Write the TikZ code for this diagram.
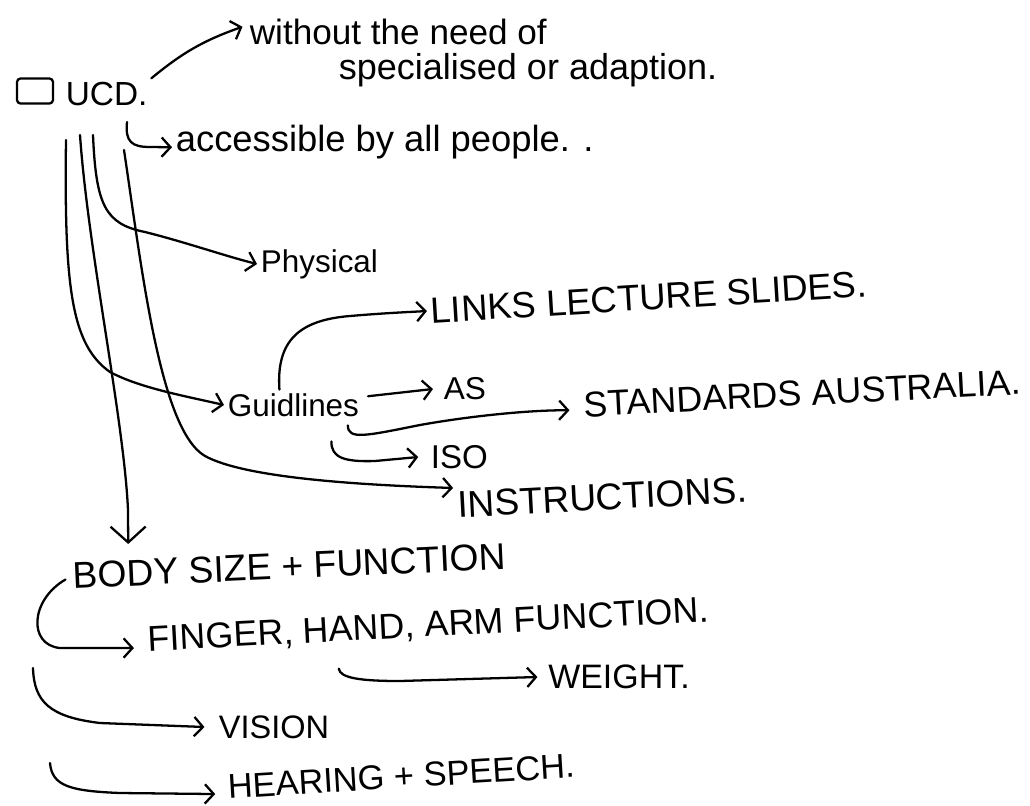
\documentclass[tikz,border=0pt]{standalone}
\usepackage{fontspec}
\setmainfont{Liberation Sans}
\usetikzlibrary{arrows.meta}

\begin{document}
\begin{tikzpicture}[x=0.02cm, y=-0.02cm,
    txt/.style={anchor=west, inner sep=2pt, font=\fontsize{#1}{#1}\selectfont},
    arr/.style={line width=1.3pt, line cap=round, -{Straight Barb[length=5pt, width=11pt]}},
    bigarr/.style={line width=1.3pt, line cap=round, -{Straight Barb[length=9pt, width=20pt]}},
    chk/.style={draw, line width=1.3pt, rounded corners=2pt, minimum width=0.72cm, minimum height=0.5cm}
]
\useasboundingbox (0,0) rectangle (1030,805);

\node[chk] (box) at (35,91) {};
\node[txt=19] (ucd) at (62,94) {UCD.};
\node[txt=20] (without) at (246,32) {without the need of};
\node[txt=20.5] (special) at (335,70) {specialised or adaption.};
\node[txt=20.7] (access) at (172,142) {accessible by all people. .};
\node[txt=17.9] (phys) at (257,264) {Physical};
\node[txt=17.9] (guide) at (224,405) {Guidlines};
\node[txt=20.8, rotate=3.5] (links) at (427,311) {LINKS LECTURE SLIDES.};
\node[txt=18] (as) at (440,389) {AS};
\node[txt=20.4, rotate=3] (stand) at (580,405) {STANDARDS AUSTRALIA.};
\node[txt=18.8] (iso) at (427,457) {ISO};
\node[txt=21.2, rotate=3] (instr) at (454,505) {INSTRUCTIONS.};
\node[txt=21.2, rotate=2.6] (body) at (69,576) {BODY SIZE + FUNCTION};
\node[txt=20.4, rotate=3, inner sep=0pt] (finger) at (148,641) {FINGER, HAND, ARM FUNCTION.};
\node[txt=19.3, inner sep=0pt] (weight) at (548,677) {WEIGHT.};
\node[txt=18.5] (vision) at (215,727) {VISION};
\node[txt=19.6, rotate=3.5] (hearing) at (224,787) {HEARING + SPEECH.};

\coordinate (hA) at (127,122);
\coordinate (s1) at (66,140);
\coordinate (s2) at (80,135);
\coordinate (s3) at (93,135);
\coordinate (s4) at (124,150);
\coordinate (v0) at (33,668);
\coordinate (h0) at (50,763);

\draw[arr] (ucd.north east) to[bend left=10] ([xshift=-2pt, yshift=3pt]without.west);
\draw[arr] (hA) .. controls (125,142) and (132,147) .. (150,147) -- ([yshift=-3pt]access.west);
\draw[arr] (s1) .. controls (64,290) and (72,345) .. (110,372) .. controls (140,388) and (185,396) .. (guide.west);
\draw[bigarr] (s2) .. controls (88,250) and (124,420) .. (128,510) -- ([xshift=1.2cm, yshift=0.3cm]body.north west);
\draw[arr] (s3) .. controls (96,205) and (105,224) .. (145,232) .. controls (185,242) and (225,256) .. (phys.west);
\draw[arr] (s4) .. controls (142,270) and (160,430) .. (205,456) .. controls (245,478) and (360,485) .. (instr.north west);

\draw[arr] ([xshift=-0.28cm]guide.north) .. controls (276,340) and (300,320) .. (350,316) .. controls (385,313) and (410,312) .. (links.west);
\draw[arr] ([xshift=3pt, yshift=5pt]guide.east) -- ([xshift=-4pt]as.west);
\draw[arr] ([xshift=-0.3cm, yshift=-0.1cm]guide.south east) .. controls (348,440) and (365,436) .. (420,425) .. controls (470,416) and (530,410) .. ([xshift=-6pt, yshift=-3pt]stand.west);
\draw[arr] ([xshift=0.76cm, yshift=-0.42cm]guide.south) .. controls (331,458) and (345,462) .. (375,461) -- ([xshift=-5pt]iso.west);

\draw[arr] ([xshift=-2pt, yshift=-2pt]body.west) .. controls (30,600) and (28,645) .. (60,648) -- ([xshift=-8pt, yshift=-4pt]finger.west);
\draw[arr] ([xshift=3.8cm, yshift=-0.25cm]finger.south west) .. controls (340,678) and (360,681) .. (400,681) -- ([xshift=-6pt]weight.west);
\draw[arr] (v0) .. controls (34,702) and (50,717) .. (100,723) -- ([xshift=-6pt]vision.west);
\draw[arr] (h0) .. controls (52,786) and (70,791) .. (120,793) -- ([xshift=-5pt, yshift=-4pt]hearing.west);
\end{tikzpicture}
\end{document}
